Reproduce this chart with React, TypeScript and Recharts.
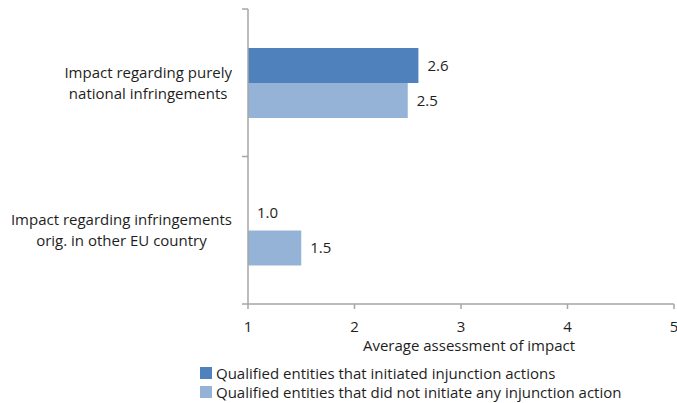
import React from 'react';
import { BarChart, Bar, XAxis, YAxis, Legend, LabelList, Label } from 'recharts';

const categories = ['Impact regarding purely\nnational infringements', 'Impact regarding infringements\norig. in other EU country'];
const initiated = [2.6, 1.0];
const notInitiated = [2.5, 1.5];
const xTicks = [1, 2, 3, 4, 5];
const seriesNames = ['Qualified entities that initiated injunction actions', 'Qualified entities that did not initiate any injunction action'];
const colors = ['#4f81bd', '#95b3d7'];

const data = categories.map((c, i) => ({ cat: c, a: initiated[i], b: notInitiated[i] }));

const FONT = '"Open Sans", "Noto Sans", sans-serif';
const TEXT = '#1e1e1e';
const AXIS = '#a6a6a6';
const PLOT_H = 295;

const YTick = (props: any) => {
  const { x, y, payload, index } = props;
  const lines = String(payload.value).split('\n');
  const band = PLOT_H / categories.length;
  return (
    <g>
      <foreignObject x={0} y={y - 30} width={x - 16} height={60}>
        <div style={{ width: '100%', height: '100%', display: 'flex', justifyContent: 'flex-end', alignItems: 'center' }}>
          <div style={{ textAlign: 'center', fontFamily: FONT, fontSize: 15, lineHeight: '21px', color: TEXT, whiteSpace: 'nowrap' }}>
            {lines.map((l: string, i: number) => (<div key={i}>{l}</div>))}
          </div>
        </div>
      </foreignObject>
      <line x1={x - 6} x2={x} y1={y - band / 2} y2={y - band / 2} stroke={AXIS} strokeWidth={1.5} />
      {index === categories.length - 1 && (
        <line x1={x - 6} x2={x} y1={y + band / 2} y2={y + band / 2} stroke={AXIS} strokeWidth={1.5} />
      )}
    </g>
  );
};

const ValueLabel = (props: any) => {
  const { x, y, width, height, value } = props;
  return (
    <text x={Number(x) + Number(width) + 9} y={Number(y) + Number(height) / 2} dy="0.35em" fill={TEXT} fontSize={15} fontFamily={FONT}>
      {Number(value).toFixed(1)}
    </text>
  );
};

const LegendContent = () => (
  <div style={{ paddingLeft: 200, fontFamily: FONT, fontSize: 15, color: TEXT }}>
    {seriesNames.map((n, i) => (
      <div key={i} style={{ display: 'flex', alignItems: 'center', height: 19, whiteSpace: 'nowrap' }}>
        <span style={{ display: 'inline-block', width: 12, height: 12, background: colors[i], marginRight: 4 }} />
        <span>{n}</span>
      </div>
    ))}
  </div>
);

export default function App() {
  return (
    <div style={{ position: 'absolute', left: 0, top: 0, background: '#fff' }}>
      <BarChart width={677} height={403} data={data} layout="vertical" margin={{ top: 9, right: 3, left: 0, bottom: 0 }} barGap={0} barSize={35}>
        <XAxis type="number" domain={[1, 5]} ticks={xTicks} height={59} stroke={AXIS} strokeWidth={1.5} tickSize={5} tickMargin={12}
          tick={{ fill: TEXT, fontSize: 15, fontFamily: FONT }} interval={0} allowDataOverflow>
          <Label value="Average assessment of impact" position="insideBottom" offset={12} dx={8} fill={TEXT} fontSize={15} fontFamily={FONT} />
        </XAxis>
        <YAxis type="category" dataKey="cat" width={248} stroke={AXIS} strokeWidth={1.5} tickLine={false} tickSize={0} tickMargin={0} tick={<YTick />} interval={0} />
        <Legend verticalAlign="bottom" align="left" height={40} content={<LegendContent />} />
        <Bar dataKey="a" name={seriesNames[0]} fill={colors[0]} isAnimationActive={false} minPointSize={0.01}>
          <LabelList dataKey="a" content={<ValueLabel />} />
        </Bar>
        <Bar dataKey="b" name={seriesNames[1]} fill={colors[1]} isAnimationActive={false}>
          <LabelList dataKey="b" content={<ValueLabel />} />
        </Bar>
      </BarChart>
    </div>
  );
}
